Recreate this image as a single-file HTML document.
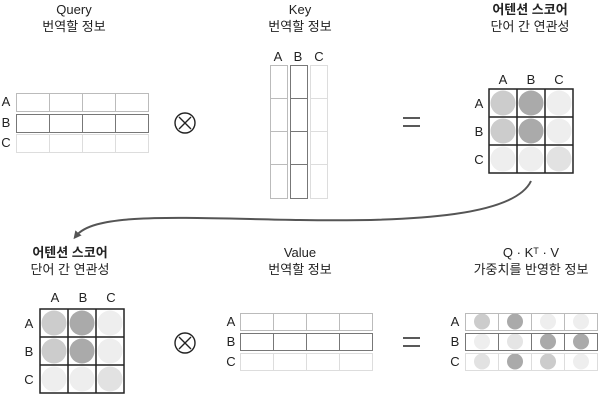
<!DOCTYPE html>
<html><head><meta charset="utf-8"><style>body{margin:0;background:#fff}svg{display:block}text{font-family:"Liberation Sans","Noto Sans CJK KR",sans-serif;fill:#222}</style></head><body>
<svg width="600" height="415" viewBox="0 0 600 415" xmlns="http://www.w3.org/2000/svg">
<defs><marker id="ah" markerWidth="8" markerHeight="8" refX="4" refY="4" orient="auto" markerUnits="userSpaceOnUse"><path d="M0,0 L8,4 L0,8 z" fill="#555"/></marker></defs>
<g text-anchor="middle" font-size="13">
<text x="74" y="14">Query</text><text x="74" y="31">번역할 정보</text>
<text x="300" y="14">Key</text><text x="300" y="31">번역할 정보</text>
<text x="530" y="14" font-weight="bold">어텐션 스코어</text><text x="530" y="31">단어 간 연관성</text>
<text x="70" y="257" font-weight="bold">어텐션 스코어</text><text x="70" y="274">단어 간 연관성</text>
<text x="300" y="257">Value</text><text x="300" y="274">번역할 정보</text>
<text x="531" y="257">Q · Kᵀ · V</text><text x="531" y="274">가중치를 반영한 정보</text>
</g>
<g font-size="13" text-anchor="middle">
<text x="6" y="106">A</text><text x="6" y="127">B</text><text x="6" y="147">C</text>
<text x="278" y="61">A</text><text x="298" y="61">B</text><text x="319" y="61">C</text>
<text x="503" y="84">A</text><text x="531" y="84">B</text><text x="559" y="84">C</text>
<text x="479" y="108">A</text><text x="479" y="136">B</text><text x="479" y="164">C</text>
<text x="55" y="302">A</text><text x="83" y="302">B</text><text x="111" y="302">C</text>
<text x="29" y="328">A</text><text x="29" y="356">B</text><text x="29" y="384">C</text>
<text x="231" y="326">A</text><text x="231" y="346">B</text><text x="231" y="366">C</text>
<text x="455" y="326">A</text><text x="455" y="346">B</text><text x="455" y="366">C</text>
</g>
<g fill="none" stroke-width="1">
<g stroke="#bbb"><rect x="16.5" y="93.5" width="132" height="18"/><path d="M49.5 93v19M82.5 93v19M115.5 93v19"/></g>
<g stroke="#777"><rect x="16.5" y="114.5" width="132" height="18"/><path d="M49.5 114v19M82.5 114v19M115.5 114v19"/></g>
<g stroke="#ddd"><rect x="16.5" y="134.5" width="132" height="18"/><path d="M49.5 134v19M82.5 134v19M115.5 134v19"/></g>
<g stroke="#bbb"><rect x="270.5" y="65.5" width="17" height="133"/><path d="M270 98.5h18M270 131.5h18M270 164.5h18"/></g>
<g stroke="#777"><rect x="290.5" y="65.5" width="17" height="133"/><path d="M290 98.5h18M290 131.5h18M290 164.5h18"/></g>
<g stroke="#ddd"><rect x="310.5" y="65.5" width="17" height="133"/><path d="M310 98.5h18M310 131.5h18M310 164.5h18"/></g>
<g stroke="#bbb"><rect x="240.5" y="313.5" width="132" height="17"/><path d="M273.5 313v18M306.5 313v18M339.5 313v18"/></g>
<g stroke="#777"><rect x="240.5" y="333.5" width="132" height="17"/><path d="M273.5 333v18M306.5 333v18M339.5 333v18"/></g>
<g stroke="#ddd"><rect x="240.5" y="353.5" width="132" height="17"/><path d="M273.5 353v18M306.5 353v18M339.5 353v18"/></g>
</g>
<g>
<circle cx="482" cy="321.5" r="8" fill="#ccc"/><circle cx="515" cy="321.5" r="8" fill="#aaa"/><circle cx="548" cy="321.5" r="8" fill="#eee"/><circle cx="581" cy="321.5" r="8" fill="#eee"/>
<circle cx="482" cy="341.5" r="8" fill="#eee"/><circle cx="515" cy="341.5" r="8" fill="#e5e5e5"/><circle cx="548" cy="341.5" r="8" fill="#aaa"/><circle cx="581" cy="341.5" r="8" fill="#aaa"/>
<circle cx="482" cy="361.5" r="8" fill="#e2e2e2"/><circle cx="515" cy="361.5" r="8" fill="#aaa"/><circle cx="548" cy="361.5" r="8" fill="#ccc"/><circle cx="581" cy="361.5" r="8" fill="#eee"/>
</g>
<g fill="none">
<g stroke="#bbb"><rect x="465.5" y="313.5" width="132" height="17"/><path d="M498.5 313v18M531.5 313v18M564.5 313v18"/></g>
<g stroke="#777"><rect x="465.5" y="333.5" width="132" height="17"/><path d="M498.5 333v18M531.5 333v18M564.5 333v18"/></g>
<g stroke="#ddd"><rect x="465.5" y="353.5" width="132" height="17"/><path d="M498.5 353v18M531.5 353v18M564.5 353v18"/></g>
</g>
<g>
<circle cx="503" cy="103" r="12.5" fill="#ccc"/>
<circle cx="531" cy="103" r="12.5" fill="#aaa"/><circle cx="559" cy="103" r="12.5" fill="#eee"/>
<circle cx="503" cy="131" r="12.5" fill="#ccc"/><circle cx="531" cy="131" r="12.5" fill="#aaa"/><circle cx="559" cy="131" r="12.5" fill="#eee"/>
<circle cx="503" cy="159" r="12.5" fill="#eee"/><circle cx="531" cy="159" r="12.5" fill="#eee"/><circle cx="559" cy="159" r="12.5" fill="#e2e2e2"/>
<rect x="489" y="89" width="84" height="84" fill="none" stroke="#222" stroke-width="1.5"/>
<path d="M517 89v84M545 89v84M489 117h84M489 145h84" stroke="#222" stroke-width="1.5"/>
</g>
<g>
<circle cx="54" cy="323" r="12.5" fill="#ccc"/><circle cx="82" cy="323" r="12.5" fill="#aaa"/><circle cx="110" cy="323" r="12.5" fill="#eee"/>
<circle cx="54" cy="351" r="12.5" fill="#ccc"/><circle cx="82" cy="351" r="12.5" fill="#aaa"/><circle cx="110" cy="351" r="12.5" fill="#eee"/>
<circle cx="54" cy="379" r="12.5" fill="#eee"/><circle cx="82" cy="379" r="12.5" fill="#eee"/><circle cx="110" cy="379" r="12.5" fill="#e2e2e2"/>
<rect x="40" y="309" width="84" height="84" fill="none" stroke="#222" stroke-width="1.5"/>
<path d="M68 309v84M96 309v84M40 337h84M40 365h84" stroke="#222" stroke-width="1.5"/>
</g>
<g fill="none" stroke="#222" stroke-width="1.4">
<circle cx="185" cy="123" r="10"/><path d="M179 117l12 12M191 117l-12 12"/>
<circle cx="185" cy="343" r="10"/><path d="M179 337l12 12M191 337l-12 12"/>
<path d="M403 118h17M403 126h17M403 338h17M403 346h17"/>
</g>
<path d="M531 181 C 515 215, 420 222, 300 220 C 180 218, 95 212, 76 236" fill="none" stroke="#555" stroke-width="2" marker-end="url(#ah)"/>
</svg>
</body></html>
